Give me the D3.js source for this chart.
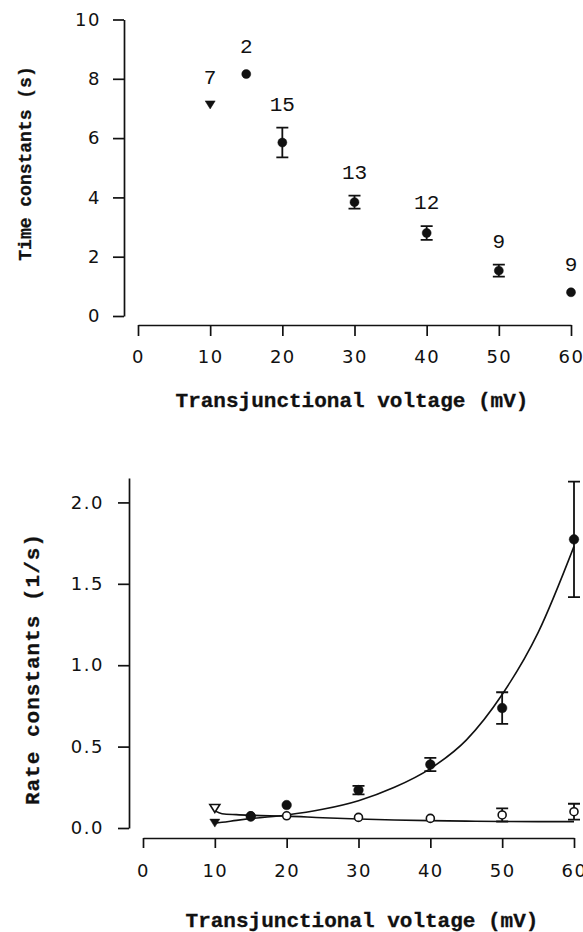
<!DOCTYPE html>
<html>
<head>
<meta charset="utf-8">
<script src="https://cdn.jsdelivr.net/npm/d3@7/dist/d3.min.js"></script>
<style>
  body { margin: 0; background: #fff; }
  .tick text { font-family: "DejaVu Sans", sans-serif; font-size: 18px; letter-spacing: 1.5px; fill: #111; }
  .title { font-family: "Liberation Mono", monospace; font-weight: bold; fill: #111; stroke: #111; stroke-width: 0.3px; }
  .count { font-family: "Liberation Mono", monospace; font-size: 21px; fill: #111; }
</style>
</head>
<body>
<div class="container"></div>
<script>
const WIDTH = 583, HEIGHT = 932;
const INK = "#111";

// top panel: time constants vs voltage
const tauVoltage = [10, 15, 20, 30, 40, 50, 60];
const tauValue = [7.12, 8.16, 5.85, 3.84, 2.8, 1.53, 0.8];
const tauErr = [0, 0, 0.5, 0.22, 0.23, 0.2, 0];
const tauCount = ["7", "2", "15", "13", "12", "9", "9"];
const tauSymbol = ["triangle", "circle", "circle", "circle", "circle", "circle", "circle"];
const tauTicks = [0, 2, 4, 6, 8, 10];

// bottom panel: rate constants vs voltage (filled = forward, open = backward)
const rateVoltage = [10, 15, 20, 30, 40, 50, 60];
const rateForward = [0.03, 0.07, 0.141, 0.233, 0.39, 0.737, 1.773];
const rateForwardErr = [0, 0, 0, 0.026, 0.041, 0.097, 0.355];
const rateBackward = [0.12, 0.075, 0.075, 0.065, 0.059, 0.08, 0.1];
const rateBackwardErr = [0, 0, 0, 0, 0, 0.04, 0.049];
const rateSymbol = ["triangle", "circle", "circle", "circle", "circle", "circle", "circle"];
const rateTicks = [0, 0.5, 1, 1.5, 2];

// fitted curves
const fitVoltage = [10, 11, 13, 15, 20, 25, 30, 35, 40, 45, 50, 55, 60];
const fitForward = [0.03, 0.035, 0.047, 0.058, 0.08, 0.115, 0.168, 0.25, 0.365, 0.54, 0.82, 1.2, 1.73];
const fitBackward = [0.105, 0.088, 0.082, 0.078, 0.073, 0.063, 0.055, 0.049, 0.045, 0.042, 0.04, 0.039, 0.039];

const voltageTicks = [0, 10, 20, 30, 40, 50, 60];
const X_TITLE = "Transjunctional voltage (mV)";

const xTop = d3.scaleLinear().domain([0, 60]).range([138, 571]);
const yTop = d3.scaleLinear().domain([0, 10]).range([316, 19.5]);
const xBot = d3.scaleLinear().domain([0, 60]).range([143, 574]);
const yBot = d3.scaleLinear().domain([0, 2.15]).range([828, 478]);

const svg = d3.select(".container")
  .append("svg")
  .attr("viewBox", [0, 0, WIDTH, HEIGHT])
  .attr("width", WIDTH)
  .attr("height", HEIGHT);

function styleAxis(g) {
  g.selectAll("path, line").attr("stroke", INK).attr("stroke-width", 1.7);
}

function triangle(w, h) {
  return `M${-w / 2},${-h / 2}L${w / 2},${-h / 2}L0,${h / 2}Z`;
}

function drawErrorBars(g, xs, ys, errs, x, y, cap = 12) {
  const idx = d3.range(xs.length).filter((i) => errs[i] > 0);
  const bars = g.append("g").attr("stroke", INK).attr("stroke-width", 1.8);
  bars.selectAll("path")
    .data(idx)
    .join("path")
    .attr("fill", "none")
    .attr("d", (i) => {
      const cx = x(xs[i]);
      const hi = y(ys[i] + errs[i]);
      const lo = y(ys[i] - errs[i]);
      return `M${cx},${hi}V${lo}M${cx - cap / 2},${hi}H${cx + cap / 2}M${cx - cap / 2},${lo}H${cx + cap / 2}`;
    });
}

function drawMarkers(g, xs, ys, symbols, x, y, { filled = true, r = 4.5 } = {}) {
  const idx = d3.range(xs.length);
  g.append("g")
    .selectAll("path")
    .data(idx)
    .join("path")
    .attr("transform", (i) => `translate(${x(xs[i])},${y(ys[i])})`)
    .attr("d", (i) => symbols[i] === "triangle"
      ? triangle(10, 8)
      : d3.symbol(d3.symbolCircle, Math.PI * r * r)())
    .attr("fill", filled ? INK : "#fff")
    .attr("stroke", INK)
    .attr("stroke-width", filled ? 0.5 : 1.6);
}

// ---------- top panel ----------
const topPanel = svg.append("g");

topPanel.append("g")
  .attr("transform", "translate(124,0)")
  .call(d3.axisLeft(yTop).tickValues(tauTicks).tickSize(11).tickSizeOuter(0)
    .tickPadding(12).tickFormat(d3.format("d")))
  .call(styleAxis);

topPanel.append("g")
  .attr("transform", "translate(0,325)")
  .call(d3.axisBottom(xTop).tickValues(voltageTicks).tickSize(11).tickSizeOuter(0)
    .tickPadding(14).tickFormat(d3.format("d")))
  .call(styleAxis);

drawErrorBars(topPanel, tauVoltage, tauValue, tauErr, xTop, yTop);
drawMarkers(topPanel, tauVoltage, tauValue, tauSymbol, xTop, yTop);

topPanel.append("g")
  .selectAll("text")
  .data(d3.range(tauCount.length))
  .join("text")
  .attr("class", "count")
  .attr("text-anchor", "middle")
  .attr("x", (i) => xTop(tauVoltage[i]))
  .attr("y", (i) => Math.min(yTop(tauValue[i] + tauErr[i]), yTop(tauValue[i]) - 4) - 17)
  .text((i) => tauCount[i]);

topPanel.append("text")
  .attr("class", "title")
  .attr("font-size", 21)
  .attr("text-anchor", "middle")
  .attr("x", 352)
  .attr("y", 407)
  .text(X_TITLE);

topPanel.append("text")
  .attr("class", "title")
  .attr("font-size", 18)
  .attr("text-anchor", "middle")
  .attr("transform", "translate(31,163.5) rotate(-90)")
  .text("Time constants (s)");

// ---------- bottom panel ----------
const botPanel = svg.append("g");

botPanel.append("g")
  .attr("transform", "translate(129,0)")
  .call(d3.axisLeft(yBot).tickValues(rateTicks).tickSize(11).tickSizeOuter(0)
    .tickPadding(14).tickFormat(d3.format(".1f")))
  .call(styleAxis);

botPanel.append("g")
  .attr("transform", "translate(0,838)")
  .call(d3.axisBottom(xBot).tickValues(voltageTicks).tickSize(10).tickSizeOuter(0)
    .tickPadding(16).tickFormat(d3.format("d")))
  .call(styleAxis);

const fitLine = (vals) => d3.line()
  .x((d, i) => xBot(fitVoltage[i]))
  .y((d) => yBot(d))
  .curve(d3.curveMonotoneX)(vals);

botPanel.append("g")
  .attr("fill", "none")
  .attr("stroke", INK)
  .attr("stroke-width", 1.6)
  .selectAll("path")
  .data([fitForward, fitBackward])
  .join("path")
  .attr("d", fitLine);

drawErrorBars(botPanel, rateVoltage, rateBackward, rateBackwardErr, xBot, yBot);
drawMarkers(botPanel, rateVoltage, rateBackward, rateSymbol, xBot, yBot, { filled: false, r: 4 });
drawErrorBars(botPanel, rateVoltage, rateForward, rateForwardErr, xBot, yBot);
drawMarkers(botPanel, rateVoltage, rateForward, rateSymbol, xBot, yBot, { filled: true, r: 4.8 });

botPanel.append("text")
  .attr("class", "title")
  .attr("font-size", 21)
  .attr("text-anchor", "middle")
  .attr("x", 362)
  .attr("y", 927)
  .text(X_TITLE);

botPanel.append("text")
  .attr("class", "title")
  .attr("font-size", 21)
  .attr("letter-spacing", 1)
  .attr("text-anchor", "middle")
  .attr("transform", "translate(39,669) rotate(-90)")
  .text("Rate constants (1/s)");
</script>
</body>
</html>
